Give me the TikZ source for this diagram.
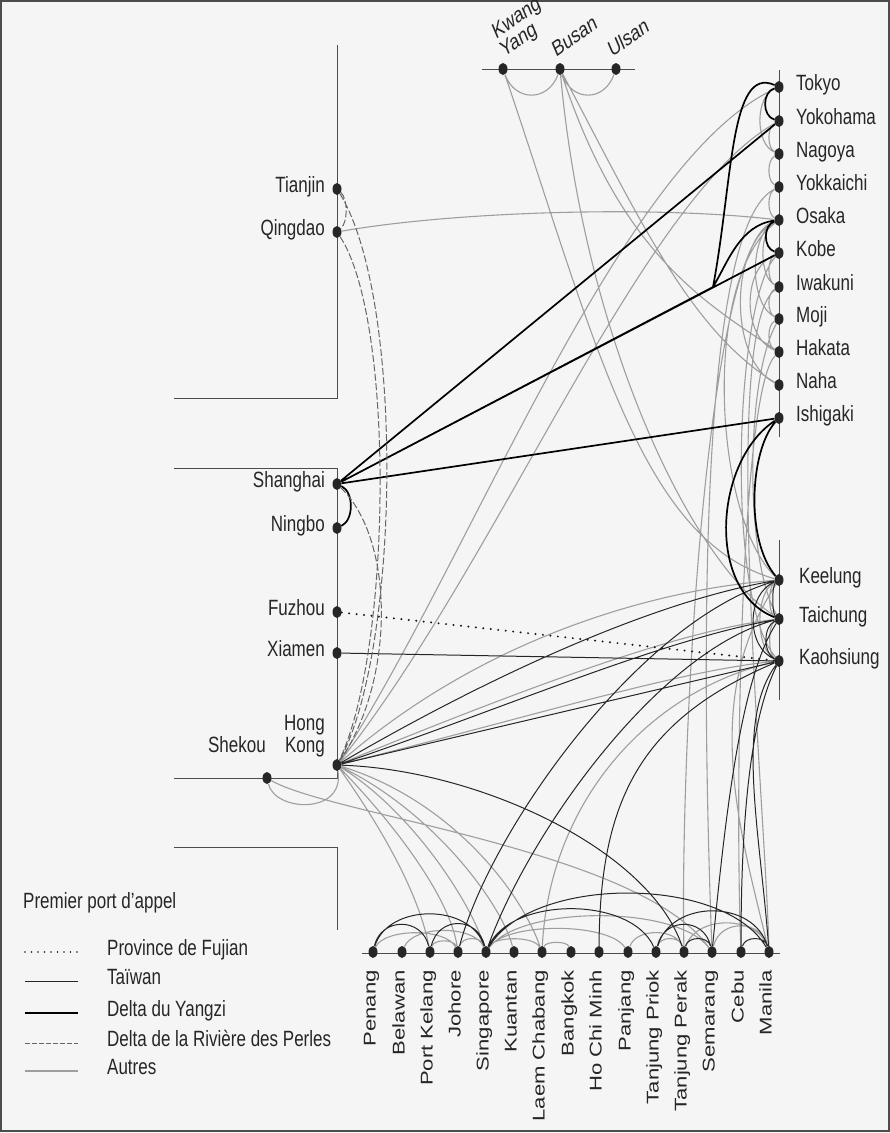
\documentclass[tikz,border=0pt]{standalone}
\usepackage{fontspec}
\setmainfont{Liberation Sans}
\usetikzlibrary{shapes.geometric}

\begin{document}
\begin{tikzpicture}[x=1pt,y=-1pt,
    port/.style={ellipse,fill=black!85,inner sep=0pt,minimum width=9pt,minimum height=12pt},
    lbl/.style={text=black!85,inner sep=0pt,font=\fontsize{17}{17}\selectfont,yscale=1.3},
    vlbl/.style={lbl,rotate=90,anchor=mid east},
    klbl/.style={lbl,rotate=29,anchor=base west},
    axe/.style={black!70,line width=0.8pt},
    fj/.style={black!90,line width=2.2pt,line cap=round,dash pattern=on 0pt off 7.5pt},
    tw/.style={black!85,line width=1pt},
    yz/.style={black,line width=1.7pt},
    pr/.style={black!60,line width=1pt,dash pattern=on 7pt off 2.5pt},
    au/.style={black!38,line width=1.1pt}]
    \useasboundingbox (0,0) rectangle (890,1133);
    \fill[black!4] (0,0) rectangle (890,1133);
    \draw[black!70,line width=2pt] (1,1) rectangle (889,1131);

    \draw[axe] (482,69) -- (635,69);
    \draw[axe] (779,70) -- (779,437);
    \draw[axe] (779,540) -- (779,700);
    \draw[axe] (337,45) -- (337,398) -- (174,398);
    \draw[axe] (174,468) -- (337,468) -- (337,778) -- (174,778);
    \draw[axe] (174,847) -- (337,847) -- (337,930);
    \draw[axe] (362,953) -- (780,953);

    \node[port] (KwangYang) at (503,69) {};
    \node[port] (Busan) at (560,69) {};
    \node[port] (Ulsan) at (616,69) {};
    \node[klbl] (tKwang) at ([xshift=-7pt,yshift=29pt]KwangYang.center) {Kwang};
    \node[klbl] (tYang) at ([xshift=1pt,yshift=11pt]KwangYang.center) {Yang};
    \node[klbl] (tBusan) at ([xshift=-4pt,yshift=11pt]Busan.center) {Busan};
    \node[klbl] (tUlsan) at ([xshift=-4pt,yshift=11pt]Ulsan.center) {Ulsan};

    \node[port] (Tokyo) at (779,87) {};
    \node[port] (Yokohama) at (779,121) {};
    \node[port] (Nagoya) at (779,154) {};
    \node[port] (Yokkaichi) at (779,187) {};
    \node[port] (Osaka) at (779,220) {};
    \node[port] (Kobe) at (779,253) {};
    \node[port] (Iwakuni) at (779,287) {};
    \node[port] (Moji) at (779,319) {};
    \node[port] (Hakata) at (779,352) {};
    \node[port] (Naha) at (779,385) {};
    \node[port] (Ishigaki) at (779,418) {};
    \node[port] (Keelung) at (779,580) {};
    \node[port] (Taichung) at (779,619) {};
    \node[port] (Kaohsiung) at (779,661) {};
    \node[lbl,anchor=mid west] (tTokyo) at ([xshift=17pt]Tokyo.center) {Tokyo};
    \node[lbl,anchor=mid west] (tYokohama) at ([xshift=17pt]Yokohama.center) {Yokohama};
    \node[lbl,anchor=mid west] (tNagoya) at ([xshift=17pt]Nagoya.center) {Nagoya};
    \node[lbl,anchor=mid west] (tYokkaichi) at ([xshift=17pt]Yokkaichi.center) {Yokkaichi};
    \node[lbl,anchor=mid west] (tOsaka) at ([xshift=17pt]Osaka.center) {Osaka};
    \node[lbl,anchor=mid west] (tKobe) at ([xshift=17pt]Kobe.center) {Kobe};
    \node[lbl,anchor=mid west] (tIwakuni) at ([xshift=17pt]Iwakuni.center) {Iwakuni};
    \node[lbl,anchor=mid west] (tMoji) at ([xshift=17pt]Moji.center) {Moji};
    \node[lbl,anchor=mid west] (tHakata) at ([xshift=17pt]Hakata.center) {Hakata};
    \node[lbl,anchor=mid west] (tNaha) at ([xshift=17pt]Naha.center) {Naha};
    \node[lbl,anchor=mid west] (tIshigaki) at ([xshift=17pt]Ishigaki.center) {Ishigaki};
    \node[lbl,anchor=mid west] (tKeelung) at ([xshift=20pt]Keelung.center) {Keelung};
    \node[lbl,anchor=mid west] (tTaichung) at ([xshift=20pt]Taichung.center) {Taichung};
    \node[lbl,anchor=mid west] (tKaohsiung) at ([xshift=20pt]Kaohsiung.center) {Kaohsiung};

    \node[port] (Tianjin) at (337,189) {};
    \node[port] (Qingdao) at (337,232) {};
    \node[port] (Shanghai) at (337,484) {};
    \node[port] (Ningbo) at (337,528) {};
    \node[port] (Fuzhou) at (337,612) {};
    \node[port] (Xiamen) at (337,653) {};
    \node[port] (HongKong) at (337,765) {};
    \node[port] (Shekou) at (267,778) {};
    \node[lbl,anchor=mid east] (tTianjin) at ([xshift=-12pt]Tianjin.center) {Tianjin};
    \node[lbl,anchor=mid east] (tQingdao) at ([xshift=-12pt]Qingdao.center) {Qingdao};
    \node[lbl,anchor=mid east] (tShanghai) at ([xshift=-12pt]Shanghai.center) {Shanghai};
    \node[lbl,anchor=mid east] (tNingbo) at ([xshift=-12pt]Ningbo.center) {Ningbo};
    \node[lbl,anchor=mid east] (tFuzhou) at ([xshift=-12pt]Fuzhou.center) {Fuzhou};
    \node[lbl,anchor=mid east] (tXiamen) at ([xshift=-12pt]Xiamen.center) {Xiamen};
    \node[lbl,align=right,anchor=south east] (tHongKong) at ([xshift=-12pt,yshift=8pt]HongKong.center) {Hong\\Kong};
    \node[lbl,anchor=base east] (tShekou) at ([xshift=-1pt,yshift=26pt]Shekou.center) {Shekou};

    \node[port] (Penang) at (373,952) {};
    \node[port] (Belawan) at (402,952) {};
    \node[port] (PortKelang) at (430,952) {};
    \node[port] (Johore) at (458,952) {};
    \node[port] (Singapore) at (486,952) {};
    \node[port] (Kuantan) at (514,952) {};
    \node[port] (LaemChabang) at (542,952) {};
    \node[port] (Bangkok) at (571,952) {};
    \node[port] (HoChiMinh) at (599,952) {};
    \node[port] (Panjang) at (628,952) {};
    \node[port] (TanjungPriok) at (656,952) {};
    \node[port] (TanjungPerak) at (684,952) {};
    \node[port] (Semarang) at (712,952) {};
    \node[port] (Cebu) at (741,952) {};
    \node[port] (Manila) at (769,952) {};
    \node[vlbl] (tPenang) at ([yshift=-18pt]Penang.center) {Penang};
    \node[vlbl] (tBelawan) at ([yshift=-18pt]Belawan.center) {Belawan};
    \node[vlbl] (tPortKelang) at ([yshift=-18pt]PortKelang.center) {Port Kelang};
    \node[vlbl] (tJohore) at ([yshift=-18pt]Johore.center) {Johore};
    \node[vlbl] (tSingapore) at ([yshift=-18pt]Singapore.center) {Singapore};
    \node[vlbl] (tKuantan) at ([yshift=-18pt]Kuantan.center) {Kuantan};
    \node[vlbl] (tLaemChabang) at ([yshift=-18pt]LaemChabang.center) {Laem Chabang};
    \node[vlbl] (tBangkok) at ([yshift=-18pt]Bangkok.center) {Bangkok};
    \node[vlbl] (tHoChiMinh) at ([yshift=-18pt]HoChiMinh.center) {Ho Chi Minh};
    \node[vlbl] (tPanjang) at ([yshift=-18pt]Panjang.center) {Panjang};
    \node[vlbl] (tTanjungPriok) at ([yshift=-18pt]TanjungPriok.center) {Tanjung Priok};
    \node[vlbl] (tTanjungPerak) at ([yshift=-18pt]TanjungPerak.center) {Tanjung Perak};
    \node[vlbl] (tSemarang) at ([yshift=-18pt]Semarang.center) {Semarang};
    \node[vlbl] (tCebu) at ([yshift=-18pt]Cebu.center) {Cebu};
    \node[vlbl] (tManila) at ([yshift=-18pt]Manila.center) {Manila};

    \draw[au] (KwangYang) .. controls +(12,33) and +(-12,33) .. (Busan)
        (Busan) .. controls +(12,33) and +(-12,33) .. (Ulsan)
        (KwangYang) .. controls (595,340) and (640,540) .. (Keelung)
        (Busan) .. controls (585,340) and (690,560) .. (Taichung)
        (Busan) .. controls (620,250) and (700,300) .. (Hakata)
        (Busan) .. controls (640,220) and (690,330) .. (Naha)
        (Qingdao) .. controls (450,212) and (650,205) .. (Osaka)
        (HongKong) .. controls (470,560) and (620,160) .. (Tokyo)
        (HongKong) .. controls (500,560) and (640,200) .. (Yokohama)
        (Osaka) .. controls (700,280) and (715,520) .. (Keelung)
        (Kobe) .. controls (735,300) and (725,600) .. (Kaohsiung)
        (Moji) .. controls (745,380) and (745,560) .. (Taichung)
        (Yokkaichi) .. controls (690,230) and (705,760) .. (Semarang)
        (Osaka) .. controls (705,240) and (680,760) .. (TanjungPerak)
        (Iwakuni) .. controls (720,330) and (765,800) .. (Manila)
        (Hakata) .. controls (740,390) and (735,800) .. (Cebu)
        (Manila) .. controls (740,830) and (700,700) .. (Keelung)
        (LaemChabang) .. controls (550,800) and (650,690) .. (Kaohsiung)
        (Tokyo) .. controls +(-24,10) and +(-24,-10) .. (Nagoya)
        (Yokohama) .. controls +(-12,6) and +(-12,-6) .. (Nagoya)
        (Nagoya) .. controls +(-12,6) and +(-12,-6) .. (Yokkaichi)
        (Yokkaichi) .. controls +(-12,6) and +(-12,-6) .. (Osaka)
        (Kobe) .. controls +(-12,6) and +(-12,-6) .. (Iwakuni)
        (Iwakuni) .. controls +(-12,6) and +(-12,-6) .. (Moji)
        (Moji) .. controls +(-12,6) and +(-12,-6) .. (Hakata)
        (Osaka) .. controls +(-20,10) and +(-20,-10) .. (Iwakuni)
        (Osaka) .. controls +(-30,15) and +(-30,-15) .. (Moji)
        (Kobe) .. controls +(-37,15) and +(-37,-15) .. (Hakata)
        (Osaka) .. controls +(-50,25) and +(-50,-25) .. (Naha)
        (Keelung) .. controls +(-11,6) and +(-11,-6) .. (Taichung)
        (Taichung) .. controls +(-11,6) and +(-11,-6) .. (Kaohsiung)
        (Keelung) .. controls +(-24,12) and +(-24,-12) .. (Kaohsiung)
        (HongKong) .. controls (480,640) and (650,590) .. (Keelung)
        (HongKong) .. controls (520,690) and (680,630) .. (Taichung)
        (HongKong) .. controls (520,720) and (680,670) .. (Kaohsiung)
        (HongKong) .. controls (390,840) and (420,900) .. (PortKelang)
        (HongKong) .. controls (400,830) and (450,900) .. (Johore)
        (HongKong) .. controls (410,810) and (470,900) .. (Singapore)
        (HongKong) .. controls (430,810) and (500,900) .. (Kuantan)
        (HongKong) .. controls (450,800) and (520,890) .. (LaemChabang)
        (Shekou) .. controls (275,812) and (345,815) .. (HongKong)
        (Shekou) .. controls (330,815) and (640,850) .. (Semarang)
        (Belawan) .. controls +(12,-27) and +(-12,-27) .. (Singapore)
        (Penang) .. controls +(12,-24) and +(-12,-24) .. (Johore)
        (PortKelang) .. controls +(4,-13) and +(-4,-13) .. (Johore)
        (Johore) .. controls +(4,-16) and +(-4,-16) .. (Singapore)
        (Singapore) .. controls +(8,-16) and +(-8,-16) .. (LaemChabang)
        (Singapore) .. controls +(35,-47) and +(-35,-47) .. (Semarang)
        (Singapore) .. controls +(20,-30) and +(-20,-30) .. (Panjang)
        (LaemChabang) .. controls +(4,-11) and +(-4,-11) .. (Bangkok)
        (TanjungPriok) .. controls +(4,-16) and +(-4,-16) .. (TanjungPerak)
        (Panjang) .. controls +(8,-24) and +(-8,-24) .. (TanjungPerak)
        (Semarang) .. controls +(8,-33) and +(-8,-33) .. (Manila)
        (TanjungPerak) .. controls +(12,-37) and +(-12,-37) .. (Manila);

    \draw[tw] (Xiamen) -- (Kaohsiung)
        (HongKong) -- (Kaohsiung)
        (HongKong) .. controls (500,670) and (660,600) .. (Keelung)
        (HongKong) .. controls (500,710) and (660,640) .. (Taichung)
        (HongKong) .. controls (480,770) and (650,850) .. (TanjungPerak)
        (Keelung) .. controls +(-7,6) and +(-7,-6) .. (Taichung)
        (Taichung) .. controls +(-16,8) and +(-16,-8) .. (Kaohsiung)
        (Keelung) .. controls +(-33,14) and +(-33,-14) .. (Kaohsiung)
        (Johore) .. controls (490,830) and (640,620) .. (Keelung)
        (Singapore) .. controls (530,830) and (660,650) .. (Taichung)
        (HoChiMinh) .. controls (600,800) and (640,720) .. (Kaohsiung)
        (Semarang) .. controls (725,820) and (740,680) .. (Taichung)
        (Cebu) .. controls (741,820) and (750,720) .. (Kaohsiung)
        (Manila) .. controls (760,830) and (735,720) .. (Kaohsiung)
        (Penang) .. controls +(15,-49) and +(-15,-49) .. (Singapore)
        (Penang) .. controls +(8,-35) and +(-8,-35) .. (PortKelang)
        (PortKelang) .. controls +(8,-36) and +(-8,-36) .. (Singapore)
        (Singapore) .. controls +(25,-56) and +(-25,-56) .. (TanjungPriok)
        (Singapore) .. controls +(45,-77) and +(-45,-77) .. (Manila)
        (TanjungPriok) .. controls +(15,-53) and +(-15,-53) .. (Manila)
        (TanjungPriok) .. controls +(8,-35) and +(-8,-35) .. (Semarang)
        (TanjungPerak) .. controls +(4,-16) and +(-4,-16) .. (Semarang)
        (Cebu) .. controls +(4,-16) and +(-4,-16) .. (Manila);

    \coordinate (jn) at (713,287);
    \draw[yz] (Shanghai) -- (Yokohama)
        (Shanghai) -- (Kobe)
        (Shanghai) -- (Ishigaki)
        (Shanghai) -- (jn) .. controls (733,180) and (730,65) .. (Tokyo)
        (jn) .. controls (728,262) and (740,225) .. (Osaka)
        (Tokyo) .. controls +(-17,5) and +(-17,-5) .. (Yokohama)
        (Osaka) .. controls +(-16,5) and +(-16,-5) .. (Kobe)
        (Shanghai) .. controls +(17,8) and +(17,-8) .. (Ningbo)
        (Ishigaki) .. controls (750,450) and (745,540) .. (Keelung)
        (Ishigaki) .. controls (715,460) and (705,590) .. (Taichung);

    \draw[pr] (Tianjin) .. controls +(11,10) and +(11,-10) .. (Qingdao)
        (Tianjin) .. controls (405,300) and (400,650) .. (HongKong)
        (Qingdao) .. controls (395,320) and (392,650) .. (HongKong)
        (Shanghai) .. controls (395,540) and (395,680) .. (HongKong);

    \draw[fj] (Fuzhou) -- (Kaohsiung);

    \node[lbl,anchor=mid west] (tTitre) at (23,905) {Premier port d’appel};
    \coordinate (lFa) at (25,952); \coordinate (lFb) at (78,952);
    \coordinate (lTa) at (25,981); \coordinate (lTb) at (78,981);
    \coordinate (lYa) at (25,1013); \coordinate (lYb) at (78,1013);
    \coordinate (lPa) at (25,1043); \coordinate (lPb) at (78,1043);
    \coordinate (lAa) at (25,1071); \coordinate (lAb) at (78,1071);
    \draw[fj,dash pattern=on 0pt off 6.5pt,line width=1.8pt] (lFa) -- (lFb);
    \draw[tw] (lTa) -- (lTb);
    \draw[yz] (lYa) -- (lYb);
    \draw[pr,dash pattern=on 5pt off 2pt] (lPa) -- (lPb);
    \draw[au] (lAa) -- (lAb);
    \node[lbl,anchor=mid west] (tFujian) at ([xshift=29pt]lFb) {Province de Fujian};
    \node[lbl,anchor=mid west] (tTaiwan) at ([xshift=29pt]lTb) {Taïwan};
    \node[lbl,anchor=mid west] (tYangzi) at ([xshift=29pt]lYb) {Delta du Yangzi};
    \node[lbl,anchor=mid west] (tPerles) at ([xshift=29pt]lPb) {Delta de la Rivière des Perles};
    \node[lbl,anchor=mid west] (tAutres) at ([xshift=29pt]lAb) {Autres};
\end{tikzpicture}
\end{document}
